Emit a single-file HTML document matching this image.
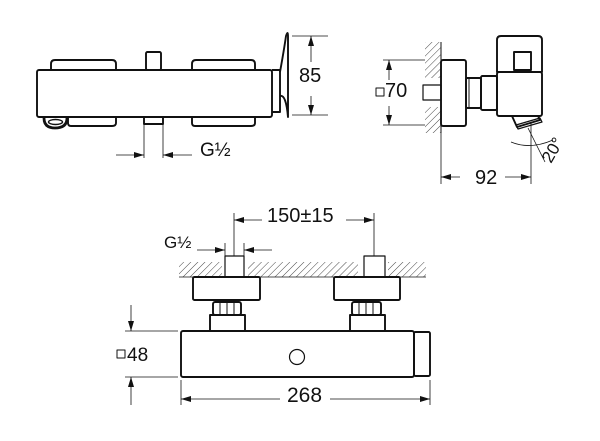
<!DOCTYPE html>
<html><head><meta charset="utf-8"><style>
html,body{margin:0;padding:0;background:#fff;width:600px;height:441px;overflow:hidden}
svg{display:block}
text{font-family:"Liberation Sans",sans-serif;fill:#111}
</style></head><body>
<svg width="600" height="441" viewBox="0 0 600 441" xmlns="http://www.w3.org/2000/svg">
<defs>
<pattern id="h" width="5" height="5" patternUnits="userSpaceOnUse" patternTransform="rotate(45)">
<line x1="0" y1="0" x2="0" y2="5" stroke="#333" stroke-width="0.9"/></pattern>
<marker id="a" viewBox="0 0 10 6" refX="10" refY="3" markerWidth="11" markerHeight="6" orient="auto-start-reverse" markerUnits="userSpaceOnUse"><path d="M0,0 L10,3 L0,6 z" fill="#111"/></marker>
</defs>
<g fill="none" stroke="#111" stroke-width="1.9" stroke-linejoin="round">
<!-- TOP LEFT VIEW -->
<path d="M51,70 V64 Q51,60 55,60 H112 Q116,60 116,64 V70"/>
<path d="M192,70 V64 Q192,60 196,60 H251 Q255,60 255,64 V70"/>
<rect x="146" y="52" width="15" height="18" rx="1.5"/>
<rect x="37" y="70" width="235" height="47" rx="2"/>
<path d="M68,117 V123 Q68,126 71,126 H112 Q116,126 116,123 V117"/>
<path d="M192,117 V123 Q192,126 195,126 H251 Q255,126 255,123 V117"/>
<rect x="144" y="117" width="19" height="7"/>
<path d="M44,118 Q44,128 55,128 Q67,128 67,118" stroke-width="2.8"/>
<ellipse cx="55.5" cy="122" rx="7" ry="2.5" stroke-width="1.4"/>
<path d="M272,70 H280 V112 H272"/>
<path d="M280,72 Q284,50 286,36 Q288,30 288,36 V117 Q286,94 280,96"/>
<g stroke-width="0.8">
<line x1="144" y1="124" x2="144" y2="158"/><line x1="163" y1="124" x2="163" y2="158"/>
<line x1="116" y1="155" x2="144" y2="155" marker-end="url(#a)"/>
<line x1="192" y1="155" x2="163" y2="155" marker-end="url(#a)"/>
<line x1="292" y1="36" x2="328" y2="36"/><line x1="292" y1="115" x2="328" y2="115"/>
<line x1="311" y1="62" x2="311" y2="36" marker-end="url(#a)"/>
<line x1="311" y1="96" x2="311" y2="115" marker-end="url(#a)"/>
</g>
<!-- TOP RIGHT VIEW -->
<rect x="425" y="42" width="16" height="36" fill="url(#h)" stroke="none"/>
<rect x="425" y="107" width="16" height="26" fill="url(#h)" stroke="none"/>
<line x1="441" y1="42" x2="441" y2="133" stroke-width="1"/>
<rect x="423" y="85" width="18" height="15" stroke-width="1.2"/>
<rect x="441" y="60" width="25" height="66" rx="2"/>
<rect x="466" y="78" width="15" height="30" rx="1.5"/>
<line x1="469" y1="78" x2="469" y2="108" stroke-width="1"/>
<rect x="481" y="76" width="16" height="34" rx="1.5"/>
<path d="M497,72 V40 Q497,36 501,36 H538 Q542,36 542,40 V72 Z"/>
<rect x="497" y="72" width="45" height="44" rx="2"/>
<rect x="514" y="52" width="17" height="18"/>
<path d="M512,116 L517,127 L540,120 L538,116"/>
<path d="M518,129 L542,122 L540,118 L516,125 Z" stroke-width="1.2"/>
<g stroke-width="0.8">
<line x1="383" y1="60" x2="425" y2="60"/><line x1="383" y1="125" x2="425" y2="125"/>
<line x1="389" y1="80" x2="389" y2="60" marker-end="url(#a)"/>
<line x1="389" y1="106" x2="389" y2="125" marker-end="url(#a)"/>
<line x1="441" y1="126" x2="441" y2="184"/>
<line x1="531" y1="122" x2="531" y2="184"/>
<line x1="460" y1="177" x2="441" y2="177" marker-end="url(#a)"/>
<line x1="505" y1="177" x2="531" y2="177" marker-end="url(#a)"/>
<line x1="528" y1="128" x2="545" y2="162"/>
<path d="M511,142 Q530,150 553,140"/>
</g>
<!-- BOTTOM VIEW -->
<rect x="179" y="262" width="43" height="15" fill="url(#h)" stroke="none"/>
<rect x="248" y="262" width="110" height="15" fill="url(#h)" stroke="none"/>
<rect x="388" y="262" width="38" height="15" fill="url(#h)" stroke="none"/>
<line x1="179" y1="277" x2="426" y2="277" stroke-width="0.8"/>
<rect x="225" y="256" width="19" height="21" stroke-width="1.2"/>
<rect x="364" y="256" width="21" height="21" stroke-width="1.2"/>
<rect x="193" y="277" width="67" height="23" rx="1.5"/>
<rect x="334" y="277" width="66" height="23" rx="1.5"/>
<rect x="213" y="302" width="28" height="13" rx="2"/>
<path d="M220,303 V315 M227,303 V315 M234,303 V315" stroke-width="1"/>
<rect x="352" y="302" width="29" height="13" rx="2"/>
<path d="M359,303 V315 M366,303 V315 M373,303 V315" stroke-width="1"/>
<rect x="210" y="315" width="35" height="16"/>
<rect x="350" y="315" width="35" height="16"/>
<rect x="181" y="331" width="233" height="46" rx="2"/>
<rect x="414" y="332" width="16" height="44" rx="1.5"/>
<circle cx="297" cy="357" r="7.5" stroke-width="1.2"/>
<g stroke-width="0.8">
<line x1="234" y1="213" x2="234" y2="256"/><line x1="374" y1="213" x2="374" y2="256"/>
<line x1="262" y1="220" x2="234" y2="220" marker-end="url(#a)"/>
<line x1="346" y1="220" x2="374" y2="220" marker-end="url(#a)"/>
<line x1="225" y1="243" x2="225" y2="256"/><line x1="244" y1="243" x2="244" y2="256"/>
<line x1="197" y1="250" x2="225" y2="250" marker-end="url(#a)"/>
<line x1="272" y1="250" x2="244" y2="250" marker-end="url(#a)"/>
<line x1="125" y1="331" x2="178" y2="331"/><line x1="125" y1="377" x2="178" y2="377"/>
<line x1="131" y1="305" x2="131" y2="331" marker-end="url(#a)"/>
<line x1="131" y1="405" x2="131" y2="377" marker-end="url(#a)"/>
<line x1="181" y1="380" x2="181" y2="405"/><line x1="430" y1="380" x2="430" y2="405"/>
<line x1="280" y1="399" x2="181" y2="399" marker-end="url(#a)"/>
<line x1="330" y1="399" x2="430" y2="399" marker-end="url(#a)"/>
</g>
<!-- small square symbols -->
<rect x="376" y="88" width="8" height="8" stroke-width="1"/>
<rect x="117" y="350" width="8" height="8" stroke-width="1"/>
</g>
<g font-size="20">
<text x="200" y="156" font-size="19">G½</text>
<text x="299" y="82">85</text>
<text x="385" y="97" font-size="20">70</text>
<text x="475" y="184">92</text>
<text x="0" y="0" transform="translate(551,164) rotate(-60)" font-size="17">20°</text>
<text x="267" y="222">150±15</text>
<text x="164" y="248" font-size="17">G½</text>
<text x="127" y="361" font-size="19">48</text>
<text x="287" y="402" font-size="21">268</text>
</g>
</svg>
</body></html>
